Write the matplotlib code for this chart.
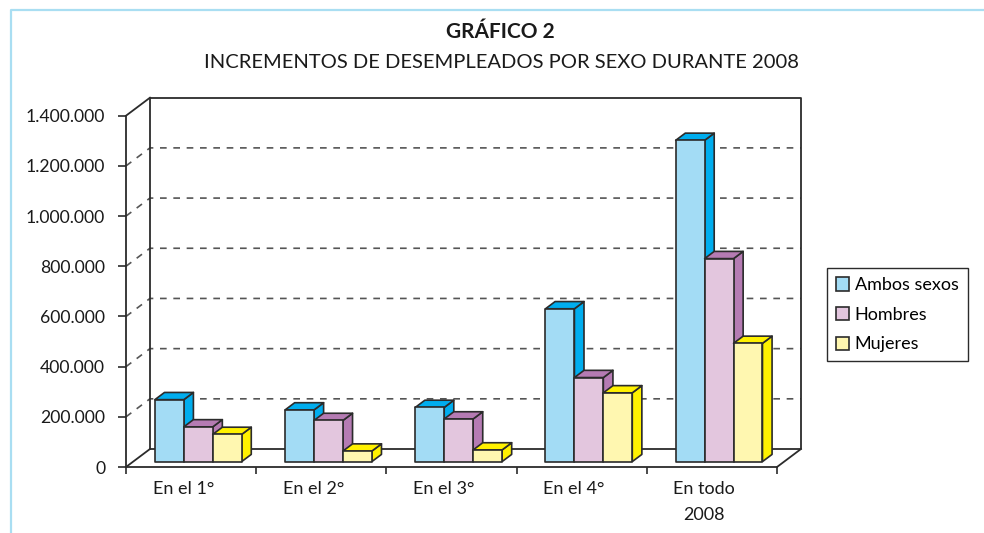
import matplotlib
matplotlib.use("Agg")
import matplotlib.pyplot as plt
from matplotlib.patches import Polygon, Patch
from matplotlib.lines import Line2D

plt.rcParams['font.family'] = ['Lato', 'DejaVu Sans']

# data
categories = ["En el 1°", "En el 2°", "En el 3°", "En el 4°", "En todo\n2008"]
series = ["Ambos sexos", "Hombres", "Mujeres"]
ambos = [246900, 206000, 216000, 609100, 1280300]
hombres = [138500, 164000, 170000, 335000, 809000]
mujeres = [108400, 42000, 46500, 274100, 471300]
values = [ambos, hombres, mujeres]
yticks = [0, 200000, 400000, 600000, 800000, 1000000, 1200000, 1400000]

front_cols = ["#a3dcf5", "#e3c6de", "#fff7b0"]
side_cols = ["#00adee", "#b57bb3", "#fff100"]
edge = "#2b2b2b"

ymax = 1400000
n = len(categories)
DX = 0.184          # wall depth, in category units
DY = 71700          # wall depth, in value units
f0, f1 = 0.30, 0.70  # bar front / back depth fraction
w = 1 / 4.5          # bar width (gap 150%)

fig = plt.figure(figsize=(9.84, 5.33), dpi=100)
ax = fig.add_axes([126 / 984, 66 / 533, 651 / 984, 351.3 / 533])
ax.set_xlim(0, n)
ax.set_ylim(0, ymax)
for s in ["top", "right"]:
    ax.spines[s].set_visible(False)
for s in ["left", "bottom"]:
    ax.spines[s].set_color(edge)
    ax.spines[s].set_linewidth(1.3)

ax.set_yticks(yticks)
ax.set_yticklabels([f"{v:,}".replace(",", ".") for v in yticks], fontsize=12.7, color="#1a1a1a")
ax.tick_params(axis="y", direction="out", length=6, width=1.2, pad=9, color=edge)
ax.set_xticks(range(n + 1))
ax.set_xticklabels([])
ax.tick_params(axis="x", which="major", direction="out", length=5, width=1.2, color=edge)
ax.set_xticks([i + 0.44 for i in range(n)], minor=True)
ax.set_xticklabels(categories, minor=True, fontsize=13, linespacing=1.8, color="#1a1a1a")
ax.tick_params(axis="x", which="minor", length=0, pad=10)

# walls and floor
kw = dict(color=edge, lw=1.3, clip_on=False, zorder=2)
ax.add_line(Line2D([DX, n + DX, n + DX, DX, DX], [DY, DY, ymax + DY, ymax + DY, DY], **kw))
ax.add_line(Line2D([0, DX], [ymax, ymax + DY], **kw))
ax.add_line(Line2D([0, DX], [0, DY], **kw))
ax.add_line(Line2D([n, n + DX], [0, DY], **kw))
for v in yticks[1:-1]:
    ax.add_line(Line2D([0, DX, n + DX], [v, v + DY, v + DY], color="#555555", lw=1.2,
                       ls=(0, (4, 4)), clip_on=False, zorder=1))

# bars
for i in range(n):
    for j in range(len(series)):
        v = values[j][i]
        x0 = i + 0.5 - 1.5 * w + j * w + f0 * DX
        x1 = x0 + w
        y0 = f0 * DY
        ddx = (f1 - f0) * DX
        ddy = (f1 - f0) * DY
        pk = dict(ec=edge, lw=1.2, clip_on=False, zorder=3, joinstyle="round")
        ax.add_patch(Polygon([(x1, y0), (x1 + ddx, y0 + ddy), (x1 + ddx, y0 + v + ddy), (x1, y0 + v)],
                             fc=side_cols[j], **pk))
        ax.add_patch(Polygon([(x0, y0 + v), (x1, y0 + v), (x1 + ddx, y0 + v + ddy), (x0 + ddx, y0 + v + ddy)],
                             fc=side_cols[j], **pk))
        ax.add_patch(Polygon([(x0, y0), (x1, y0), (x1, y0 + v), (x0, y0 + v)],
                             fc=front_cols[j], **pk))

handles = [Patch(fc=front_cols[j], ec=edge, lw=1.2, label=series[j]) for j in range(3)]
fig.legend(handles=handles, loc="upper left", bbox_to_anchor=(826.7 / 984, 1 - 268.3 / 533),
           fontsize=13, frameon=True, fancybox=False, edgecolor=edge, framealpha=1,
           handlelength=0.75, handleheight=0.75, handletextpad=0.3, labelspacing=0.75,
           borderpad=0.5, borderaxespad=0)

fig.text(500 / 984, 1 - 32 / 533, "GRÁFICO 2", ha="center", va="center", fontsize=15,
         fontweight="bold", color="#1a1a1a")
fig.text(501 / 984, 1 - 62 / 533, "INCREMENTOS DE DESEMPLEADOS POR SEXO DURANTE 2008",
         ha="center", va="center", fontsize=14.5, color="#1a1a1a")

# light blue frame
fig.add_artist(Line2D([10.5 / 984, 10.5 / 984, 1], [0, 1 - 9.5 / 533, 1 - 9.5 / 533],
                      color="#a9def2", lw=1.6, transform=fig.transFigure))

fig.savefig("out.png", dpi=100)
